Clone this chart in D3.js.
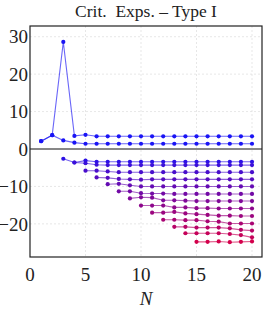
<!DOCTYPE html>
<html>
<head>
<meta charset="utf-8">
<script src="https://cdn.jsdelivr.net/npm/d3@7"></script>
<style>
  body { margin: 0; background: #fff; }
  svg { display: block; font-family: "Liberation Serif", "DejaVu Serif", serif; }
</style>
</head>
<body>
<svg id="chart"></svg>
<script>
const width = 263;
const height = 316;

const title = "Crit.\u00a0 Exps. \u2013 Type I";
const xTicks = [0, 5, 10, 15, 20];
const yTicks = [-20, -10, 0, 10, 20, 30];

// positive exponents, N = 1..20
const posStart = [1, 1];
const pos1 = [2.1, 3.7, 28.6, 3.5, 3.8, 3.4, 3.4, 3.4, 3.4, 3.4, 3.4, 3.4, 3.4, 3.4, 3.4, 3.4, 3.4, 3.4, 3.4, 3.4];
const pos2 = [2.1, 3.7, 2.3, 1.7, 1.4, 1.4, 1.4, 1.4, 1.4, 1.4, 1.4, 1.4, 1.4, 1.4, 1.4, 1.4, 1.4, 1.4, 1.4, 1.4];

// negative exponents, series k starts at N = k + 2
const negStart = [3, 4, 5, 6, 7, 8, 9, 10, 11, 12, 13, 14, 15];
const neg1 = [-2.6, -3.6, -3.1, -3.4, -3.4, -3.4, -3.4, -3.4, -3.4, -3.4, -3.4, -3.4, -3.4, -3.4, -3.4, -3.4, -3.4, -3.4];
const neg2 = [-3.6, -3.8, -4.2, -4.3, -4.3, -4.3, -4.3, -4.3, -4.3, -4.3, -4.3, -4.3, -4.3, -4.3, -4.3, -4.3, -4.3];
const neg3 = [-5.8, -5.8, -6.0, -6.2, -6.2, -6.2, -6.2, -6.2, -6.2, -6.2, -6.2, -6.2, -6.2, -6.2, -6.2, -6.2];
const neg4 = [-7.6, -7.7, -8.0, -8.1, -8.2, -8.1, -8.1, -8.1, -8.1, -8.1, -8.1, -8.1, -8.1, -8.1, -8.1];
const neg5 = [-9.4, -9.3, -9.7, -10.0, -10.0, -10.0, -10.0, -10.0, -10.0, -10.0, -10.0, -10.0, -10.0, -10.0];
const neg6 = [-11.3, -11.3, -11.8, -11.9, -11.9, -12.0, -12.0, -12.0, -12.0, -12.0, -12.0, -12.0, -12.0];
const neg7 = [-13.2, -12.9, -13.0, -13.7, -13.7, -13.8, -13.9, -13.9, -13.9, -13.9, -13.9, -13.9];
const neg8 = [-15.1, -15.1, -15.1, -15.6, -15.6, -15.8, -15.8, -15.9, -15.9, -15.9, -15.9];
const neg9 = [-17.0, -17.0, -16.8, -17.2, -17.4, -17.6, -17.8, -17.8, -17.9, -17.9];
const neg10 = [-18.9, -18.9, -19.0, -19.0, -19.3, -19.4, -19.9, -19.9, -19.9];
const neg11 = [-20.8, -20.8, -21.0, -21.0, -21.0, -21.2, -21.6, -21.8];
const neg12 = [-22.5, -22.5, -22.5, -22.5, -22.7, -23.0, -23.6];
const neg13 = [-24.8, -24.8, -24.7, -24.9, -24.8, -24.7];

const posSeries = [pos1, pos2];
const negSeries = [neg1, neg2, neg3, neg4, neg5, neg6, neg7, neg8, neg9, neg10, neg11, neg12, neg13];

const svg = d3.select('#chart')
  .attr('width', width)
  .attr('height', height);

const xScale = d3.scaleLinear()
  .domain([0, 20.9])
  .range([30, 262]);
const yScale = d3.scaleLinear()
  .domain([-28.85, 32.86])
  .range([257, 26]);

const [plotLeft, plotRight] = xScale.range();
const [plotBottom, plotTop] = yScale.range();

// grid
const grid = svg.append('g')
  .attr('stroke', '#dcdcdc')
  .attr('stroke-width', 0.7)
  .attr('stroke-dasharray', '2,2');
grid.selectAll('.vx')
  .data(xTicks.filter(d => d > 0))
  .join('line')
    .attr('x1', d => xScale(d)).attr('x2', d => xScale(d))
    .attr('y1', plotTop).attr('y2', plotBottom);
grid.selectAll('.hy')
  .data(yTicks.filter(d => d !== 0))
  .join('line')
    .attr('x1', plotLeft).attr('x2', plotRight)
    .attr('y1', d => yScale(d)).attr('y2', d => yScale(d));

const line = d3.line()
  .x(d => xScale(d[0]))
  .y(d => yScale(d[1]));

function toPoints(values, start) {
  return values.map((v, i) => [start + i, v]);
}

const negColor = d3.scaleLinear()
  .domain([0, negSeries.length - 1])
  .range(['#2c10e6', '#d3004c'])
  .interpolate(d3.interpolateRgb);

const allSeries = [];
posSeries.forEach((s, i) => allSeries.push({ pts: toPoints(s, posStart[i]), color: '#1a14f5' }));
negSeries.forEach((s, i) => allSeries.push({ pts: toPoints(s, negStart[i]), color: negColor(i) }));

const plot = svg.append('g');
allSeries.forEach(s => {
  plot.append('path')
    .attr('d', line(s.pts))
    .attr('fill', 'none')
    .attr('stroke', s.color)
    .attr('stroke-opacity', 0.65)
    .attr('stroke-width', 1.1);
  plot.append('g')
    .selectAll('circle')
    .data(s.pts)
    .join('circle')
      .attr('cx', d => xScale(d[0]))
      .attr('cy', d => yScale(d[1]))
      .attr('r', 2.1)
      .attr('fill', s.color);
});

// zero line and frame
svg.append('line')
  .attr('x1', plotLeft).attr('x2', plotRight)
  .attr('y1', yScale(0)).attr('y2', yScale(0))
  .attr('stroke', '#111')
  .attr('stroke-width', 1.2);
svg.append('rect')
  .attr('x', plotLeft).attr('y', plotTop)
  .attr('width', plotRight - plotLeft).attr('height', plotBottom - plotTop)
  .attr('fill', 'none')
  .attr('stroke', '#222')
  .attr('stroke-width', 1.2);

// tick labels
svg.append('g')
  .selectAll('text')
  .data(yTicks)
  .join('text')
    .attr('x', plotLeft - 2)
    .attr('y', d => yScale(d))
    .attr('dy', '0.35em')
    .attr('text-anchor', 'end')
    .attr('font-size', 19)
    .attr('fill', '#222')
    .text(d => d < 0 ? '\u2212' + Math.abs(d) : d);

svg.append('g')
  .selectAll('text')
  .data(xTicks)
  .join('text')
    .attr('x', d => xScale(d))
    .attr('y', 280.5)
    .attr('text-anchor', 'middle')
    .attr('font-size', 19)
    .attr('fill', '#222')
    .text(d => d);

svg.append('text')
  .attr('x', (plotLeft + plotRight) / 2)
  .attr('y', 305)
  .attr('text-anchor', 'middle')
  .attr('font-size', 19)
  .attr('font-style', 'italic')
  .attr('fill', '#222')
  .text('N');

svg.append('text')
  .attr('x', (plotLeft + plotRight) / 2)
  .attr('y', 16.5)
  .attr('text-anchor', 'middle')
  .attr('font-size', 17.5)
  .attr('fill', '#222')
  .text(title);
</script>
</body>
</html>
